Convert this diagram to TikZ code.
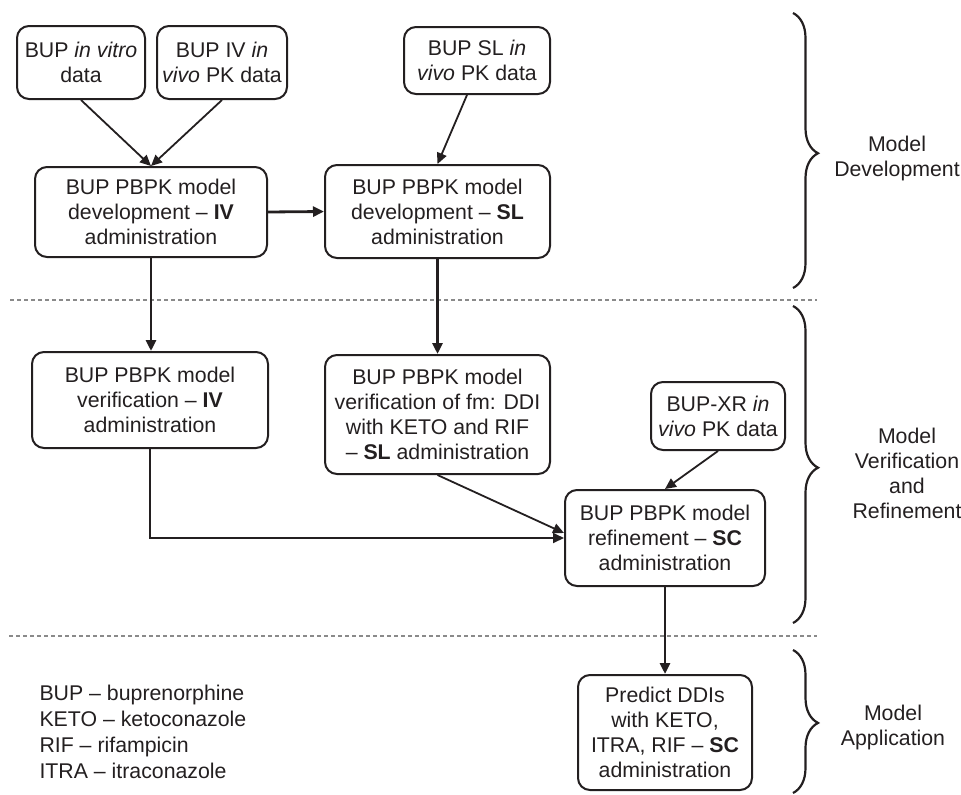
\documentclass[tikz,border=0pt]{standalone}
\usepackage{fontspec}
\setmainfont{Liberation Sans}
\usetikzlibrary{arrows.meta,decorations.pathreplacing}
\definecolor{ink}{HTML}{231F20}
\definecolor{dashgray}{HTML}{8A8A8A}
\tikzset{
  txt/.style={font=\fontsize{21.3}{25}\selectfont, text=ink, align=center},
  box/.style={txt, draw=ink, line width=2pt, rounded corners=12pt, inner sep=0pt},
  thickarrow/.style={draw=ink, line width=2.8pt, -{Triangle[length=11pt,width=10pt]}},
  thinarrow/.style={draw=ink, line width=1.8pt, -{Triangle[length=11pt,width=10pt]}},
  sepline/.style={draw=dashgray, line width=1.4pt, dash pattern=on 4pt off 3pt},
  bracestyle/.style={draw=ink, line width=2.2pt, decorate,
    decoration={brace, amplitude=25pt, aspect=0.51}},
  phase/.style={txt}
}
\begin{document}
\begin{tikzpicture}[x=1pt,y=-1pt]
\useasboundingbox (0,0) rectangle (961,795);

% boxes
\node[box, minimum width=128pt, minimum height=73pt] (A) at (81,62.5) {BUP \textit{in vitro}\\data};
\node[box, minimum width=130pt, minimum height=73pt] (B) at (222,62.5) {BUP IV \textit{in}\\\textit{vivo} PK data};
\node[box, minimum width=146pt, minimum height=67pt] (C) at (477,60.5) {BUP SL \textit{in}\\\textit{vivo} PK data};
\node[box, minimum width=232pt, minimum height=90pt] (D) at (151,212) {BUP PBPK model\\development -- \textbf{IV}\\administration};
\node[box, minimum width=225pt, minimum height=93pt] (E) at (437.5,211.5) {BUP PBPK model\\development -- \textbf{SL}\\administration};
\node[box, minimum width=236pt, minimum height=96pt] (F) at (150,400) {BUP PBPK model\\verification -- \textbf{IV}\\administration};
\node[box, minimum width=225pt, minimum height=119pt] (G) at (437.5,414.5) {BUP PBPK model\\verification of fm: DDI\\with KETO and RIF\\-- \textbf{SL} administration};
\node[box, minimum width=134pt, minimum height=68pt] (XR) at (718,416) {BUP-XR \textit{in}\\\textit{vivo} PK data};
\node[box, minimum width=200pt, minimum height=96pt] (R) at (665,538) {BUP PBPK model\\refinement -- \textbf{SC}\\administration};
\node[box, minimum width=174pt, minimum height=115pt] (P) at (665,732.5) {Predict DDIs\\with KETO,\\ITRA, RIF -- \textbf{SC}\\administration};

% separators
\coordinate (s1a) at (10,300);
\coordinate (s1b) at (817,300);
\coordinate (s2a) at (9,636);
\coordinate (s2b) at (817,636);
\draw[sepline] (s1a) -- (s1b);
\draw[sepline] (s2a) -- (s2b);

% connectors
\draw[thinarrow] (A.south) -- (D.north);
\draw[thinarrow] (B.south) -- (D.north);
\draw[thinarrow] ([xshift=-10pt]C.south) -- (E.north);
\draw[thickarrow] (D.east) -- (E.west);
\draw[thickarrow] (D.south) -- (D.south |- F.north);
\draw[thickarrow] (E.south) -- (G.north);
\draw[thinarrow] (F.south) |- (R.west);
\draw[thinarrow] (G.south) -- ([yshift=5pt]R.west);
\draw[thinarrow] (XR.south) -- (R.north);
\draw[thickarrow] (R.south) -- (P.north);

% braces
\coordinate (b1a) at (793,13);
\coordinate (b1b) at (793,288);
\coordinate (b2a) at (793,306);
\coordinate (b2b) at (793,623);
\coordinate (b3a) at (793,650);
\coordinate (b3b) at (793,793);
\draw[bracestyle] (b1a) -- (b1b);
\draw[bracestyle] (b2a) -- (b2b);
\draw[bracestyle] (b3a) -- (b3b);

% phase labels
\node[phase] (L1) at (897,158) {Model\\Development};
\node[phase] (L2) at (907,473) {Model\\Verification\\and\\Refinement};
\node[phase] (L3) at (893,727) {Model\\Application};

% legend
\node[txt, align=left, anchor=west, font=\fontsize{21.3}{26}\selectfont] (legend) at (36,732)
  {BUP -- buprenorphine\\KETO -- ketoconazole\\RIF -- rifampicin\\ITRA -- itraconazole};
\end{tikzpicture}
\end{document}
